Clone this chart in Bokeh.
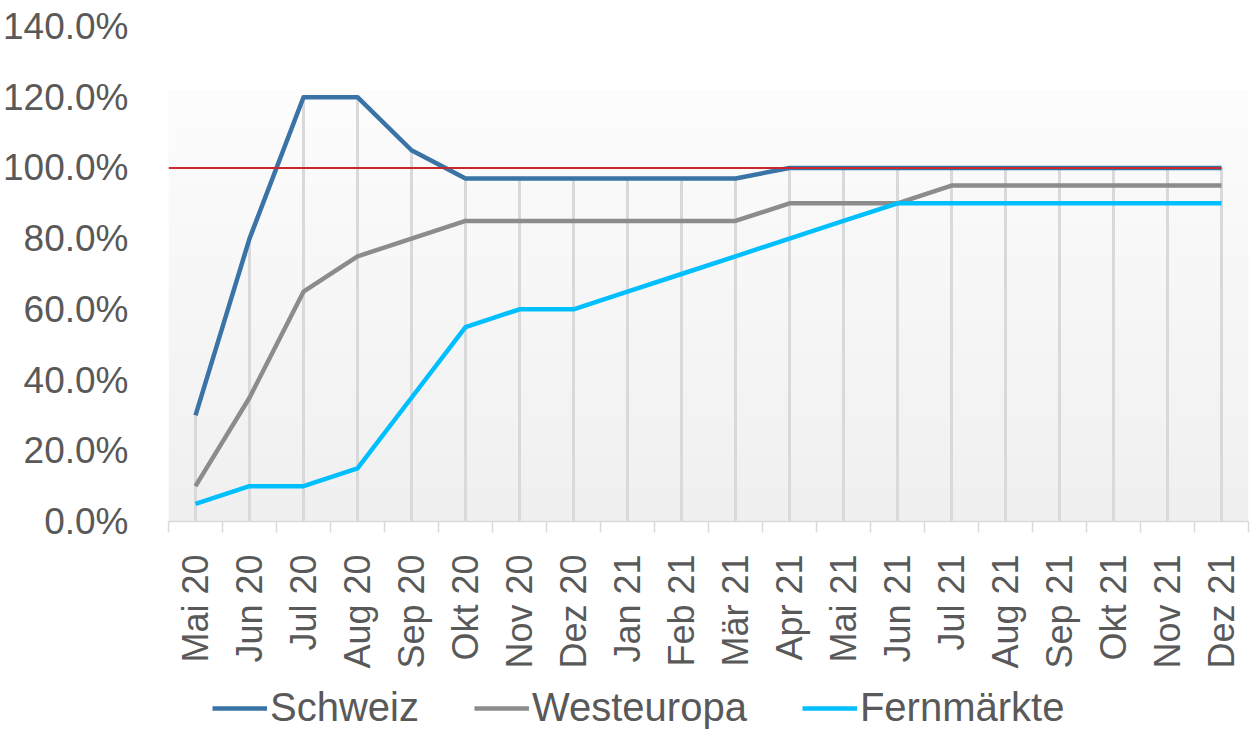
import numpy as np
from bokeh.plotting import figure
from bokeh.layouts import column
from bokeh.models import Range1d, FixedTicker, PrintfTickFormatter, Legend, LegendItem
from bokeh.embed import file_html
from bokeh.resources import INLINE

# ---- data ----
months = ["Mai 20", "Jun 20", "Jul 20", "Aug 20", "Sep 20", "Okt 20", "Nov 20", "Dez 20",
          "Jan 21", "Feb 21", "Mär 21", "Apr 21", "Mai 21", "Jun 21", "Jul 21", "Aug 21",
          "Sep 21", "Okt 21", "Nov 21", "Dez 21"]
schweiz = [30, 80, 120, 120, 105, 97, 97, 97, 97, 97, 97, 100, 100, 100, 100, 100, 100, 100, 100, 100]
westeuropa = [10, 35, 65, 75, 80, 85, 85, 85, 85, 85, 85, 90, 90, 90, 95, 95, 95, 95, 95, 95]
fernmaerkte = [5, 10, 10, 15, 35, 55, 60, 60, 65, 70, 75, 80, 85, 90, 90, 90, 90, 90, 90, 90]
series_names = ["Schweiz", "Westeuropa", "Fernmärkte"]
series_colors = ["#3a73a6", "#8c8c8c", "#00bfff"]
target = 100
y_ticks = [0, 20, 40, 60, 80, 100, 120, 140]

TEXT = "#595959"
FONT = "Liberation Sans"

n = len(months)
xs = list(range(n))
x_lo, x_hi = -0.5, n - 0.5
series = [schweiz, westeuropa, fernmaerkte]

p = figure(width=1256, height=680, output_backend="svg", toolbar_location=None,
           x_range=Range1d(x_lo, x_hi), y_range=Range1d(y_ticks[0], y_ticks[-1]),
           min_border_left=166, min_border_right=8, min_border_top=26, min_border_bottom=159)
p.outline_line_color = None
p.background_fill_color = "white"
p.border_fill_color = "white"
p.xgrid.visible = False
p.ygrid.visible = False

# gradient plot-area background
grad_top = 122
rows = 256
t = np.linspace(0, 1, rows)  # 0 bottom -> 1 top
shade = (240 + t * 13).astype(np.uint8)
img = np.zeros((rows, 1), dtype=np.uint32)
view = img.view(dtype=np.uint8).reshape((rows, 1, 4))
view[:, 0, 0] = shade
view[:, 0, 1] = shade
view[:, 0, 2] = shade
view[:, 0, 3] = 255
p.image_rgba(image=[img], x=x_lo, y=0, dw=x_hi - x_lo, dh=grad_top)

# drop lines
tops = [max(vals) for vals in zip(*series)]
p.segment(x0=xs, y0=[0] * n, x1=xs, y1=tops, line_color="#d9d9d9", line_width=3)

for vals, col in zip(series, series_colors):
    p.line(xs, vals, line_color=col, line_width=4.5, line_join="round")
p.line([x_lo, xs[-1]], [target, target], line_color="#c8282d", line_width=2)

# axes
xa = p.xaxis[0]
xa.ticker = FixedTicker(ticks=xs, minor_ticks=[i - 0.5 for i in range(n + 1)])
xa.major_label_overrides = {i: m for i, m in enumerate(months)}
xa.major_label_orientation = np.pi / 2
xa.major_tick_out = 0
xa.major_tick_in = 0
xa.minor_tick_out = 11
xa.minor_tick_in = 0
xa.minor_tick_line_color = "#d9d9d9"
xa.axis_line_color = "#d9d9d9"
xa.axis_line_width = 1.5
xa.minor_tick_line_width = 1.5
xa.major_label_standoff = 22
xa.major_label_text_font = FONT
xa.major_label_text_font_size = "36px"
xa.major_label_text_color = TEXT

ya = p.yaxis[0]
ya.ticker = FixedTicker(ticks=y_ticks)
ya.formatter = PrintfTickFormatter(format="%.1f%%")
ya.axis_line_color = None
ya.major_tick_line_color = None
ya.minor_tick_line_color = None
ya.major_label_standoff = 34
ya.major_label_text_font = FONT
ya.major_label_text_font_size = "37px"
ya.major_label_text_color = TEXT

# legend strip (separate figure so the legend is not clipped by the plot frame);
# its ranges keep the series data out of view, only the legend shows
lg = figure(width=1256, height=50, output_backend="svg", toolbar_location=None,
            x_axis_location=None, y_axis_location=None,
            x_range=Range1d(-20, -10), y_range=Range1d(-20, -10),
            min_border_left=0, min_border_right=0, min_border_top=0, min_border_bottom=0)
lg.outline_line_color = None
lg.xgrid.visible = False
lg.ygrid.visible = False
items = []
for name, vals, col in zip(series_names, series, series_colors):
    r = lg.line(xs, vals, line_color=col, line_width=4.5)
    items.append(LegendItem(label=name, renderers=[r]))
legend = Legend(items=items, orientation="horizontal", location=(44, 0),
                glyph_width=55, glyph_height=30, label_standoff=3, spacing=55,
                padding=0, margin=0, border_line_color=None, background_fill_alpha=0,
                label_text_font=FONT, label_text_font_size="40px", label_text_color=TEXT)
lg.add_layout(legend, "center")

open("out.html", "w").write(file_html(column(p, lg), INLINE))
